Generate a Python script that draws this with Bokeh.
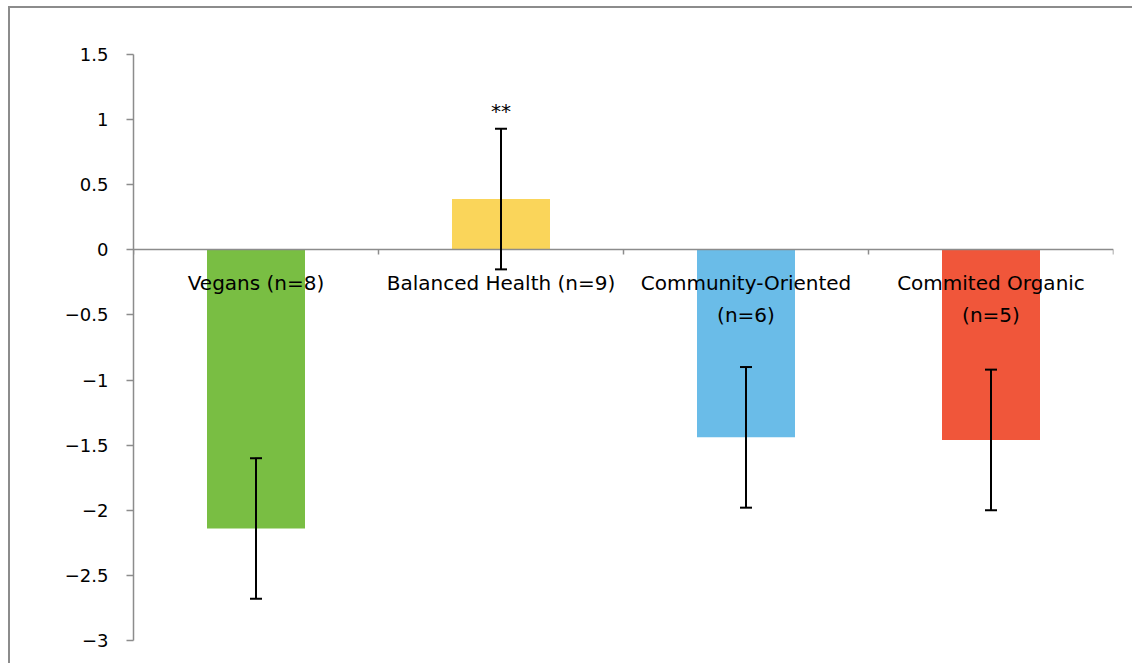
from bokeh.plotting import figure
from bokeh.models import (ColumnDataSource, FixedTicker, Whisker, TeeHead,
                          CustomJSTickFormatter, Range1d)
from bokeh.core.properties import value
from bokeh.embed import file_html
from bokeh.resources import INLINE

# ---- data ----
categories = ["Vegans (n=8)", "Balanced Health (n=9)", "Community-Oriented\n(n=6)", "Commited Organic\n(n=5)"]
means = [-2.14, 0.39, -1.44, -1.46]
errors = [0.54, 0.54, 0.54, 0.54]
significance = ["", "**", "", ""]
colors = ["#79BE43", "#FAD55A", "#6ABCE8", "#F0563A"]
y_ticks = [-3, -2.5, -2, -1.5, -1, -0.5, 0, 0.5, 1, 1.5]

FONT = "DejaVu Sans"
GRAY = "#8c8c8c"

xs = list(range(len(categories)))
src = ColumnDataSource(dict(
    x=xs, top=means, color=colors, label=categories,
    upper=[m + e for m, e in zip(means, errors)],
    lower=[m - e for m, e in zip(means, errors)],
    sig=significance,
))

# outer chart border offset (8px left, 6px top, 2px line)
p = figure(width=1124, height=657, output_backend="svg", toolbar_location=None,
           x_range=Range1d(-0.5, len(categories) - 0.5), y_range=Range1d(min(y_ticks), max(y_ticks)),
           min_border_left=123, min_border_top=46, min_border_bottom=25, min_border_right=21)
p.styles = {"margin-left": "8px", "margin-top": "6px",
            "border-left": "2px solid #8c8c8c", "border-top": "2px solid #8c8c8c"}
p.outline_line_color = None
p.grid.visible = False
p.background_fill_color = "white"
p.border_fill_color = "white"

p.vbar(x="x", top="top", bottom=0, width=0.4, color="color", line_color=None, source=src)

# y axis
yax = p.yaxis[0]
yax.ticker = FixedTicker(ticks=y_ticks)
yax.formatter = CustomJSTickFormatter(code="return (tick < 0 ? '\u2212' : '') + Math.abs(tick).toString();")
yax.axis_line_color = GRAY
yax.axis_line_width = 1.5
yax.major_tick_line_color = GRAY
yax.major_tick_line_width = 1.5
yax.major_tick_out = 7
yax.major_tick_in = 0
yax.minor_tick_line_color = None
yax.major_label_standoff = 18
yax.major_label_text_font = FONT
yax.major_label_text_font_size = "18px"
yax.major_label_text_color = "black"

# x axis at zero with ticks between categories
xax = p.xaxis[0]
xax.fixed_location = 0
xax.ticker = FixedTicker(ticks=[i - 0.5 for i in range(len(categories) + 1)])
xax.axis_line_color = GRAY
xax.axis_line_width = 1.5
xax.major_tick_line_color = GRAY
xax.major_tick_line_width = 1.5
xax.major_tick_out = 5
xax.major_tick_in = 0
xax.minor_tick_line_color = None
xax.major_label_text_font_size = "0px"
xax.major_label_text_alpha = 0

# error bars
head = dict(size=12, line_color="black", line_width=2)
p.add_layout(Whisker(base="x", upper="upper", lower="lower", source=src, dimension="height",
                     line_color="black", line_width=2, level="overlay",
                     upper_head=TeeHead(**head), lower_head=TeeHead(**head)))

# category labels
p.text(x="x", y=0, text="label", source=src, text_align="center", text_baseline="top",
       y_offset=21, text_font=value(FONT), text_font_size="20px", text_color="black",
       text_line_height=1.35, level="overlay")

# significance
p.text(x="x", y="upper", text="sig", source=src, text_align="center", text_baseline="bottom",
       y_offset=-6, text_font=value(FONT), text_font_size="20px", text_color="black")

open("out.html", "w").write(file_html(p, INLINE))
